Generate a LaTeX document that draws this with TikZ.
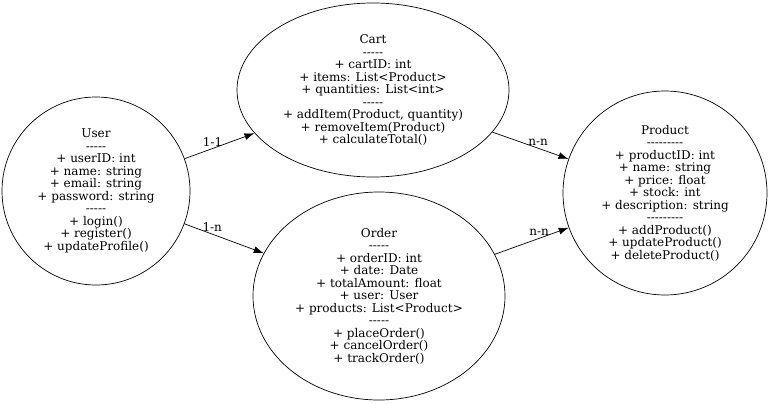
\documentclass[tikz,border=0pt]{standalone}
\usepackage{fontspec}
\setmainfont{DejaVu Serif}[Ligatures=TeXOff]
\usetikzlibrary{shapes.geometric,arrows.meta}

\tikzset{
	classnode/.style={draw, line width=0.7pt, inner sep=0pt, align=center, font=\fontsize{12}{12.5}\selectfont},
	assoc/.style={-{Latex[length=10pt,width=7pt]}, line width=0.7pt},
	mult/.style={font=\fontsize{12}{12.5}\selectfont, inner sep=2pt}
}

\begin{document}
\begin{tikzpicture}[x=1pt,y=-1pt]
	%Canvas of the reference, 768 x 404
	\useasboundingbox (0,0) rectangle (768,404);

	%Centres of the four classes
	\pgfmathsetmacro{\ux}{96}
	\pgfmathsetmacro{\uy}{191}
	\pgfmathsetmacro{\cx}{373}
	\pgfmathsetmacro{\cy}{90}
	\pgfmathsetmacro{\ox}{379}
	\pgfmathsetmacro{\oy}{296}
	\pgfmathsetmacro{\px}{665}
	\pgfmathsetmacro{\py}{193}

	%The classes
	\node[classnode, circle, minimum size=188pt] (user) at (\ux,\uy)
		{User\\-----\\+ userID: int\\+ name: string\\+ email: string\\+ password: string\\-----\\+ login()\\+ register()\\+ updateProfile()};
	\node[classnode, ellipse, minimum width=272pt, minimum height=174pt] (cart) at (\cx,\cy)
		{Cart\\-----\\+ cartID: int\\+ items: List<Product>\\+ quantities: List<int>\\-----\\+ addItem(Product, quantity)\\+ removeItem(Product)\\+ calculateTotal()};
	\node[classnode, ellipse, minimum width=252pt, minimum height=208pt] (order) at (\ox,\oy)
		{Order\\-----\\+ orderID: int\\+ date: Date\\+ totalAmount: float\\+ user: User\\+ products: List<Product>\\-----\\+ placeOrder()\\+ cancelOrder()\\+ trackOrder()};
	\node[classnode, circle, minimum size=204pt] (product) at (\px,\py)
		{Product\\---------\\+ productID: int\\+ name: string\\+ price: float\\+ stock: int\\+ description: string\\---------\\+ addProduct()\\+ updateProduct()\\+ deleteProduct()};

	%Associations with multiplicities
	\draw[assoc] (user) -- node[mult, pos=0.4, above] (m1) {1-1} (cart);
	\draw[assoc] (user) -- node[mult, pos=0.35, above] (m2) {1-n} (order);
	\draw[assoc] (cart) -- node[mult, pos=0.6, above] (m3) {n-n} (product);
	\draw[assoc] (order) -- node[mult, pos=0.6, above] (m4) {n-n} (product);

\end{tikzpicture}
\end{document}
